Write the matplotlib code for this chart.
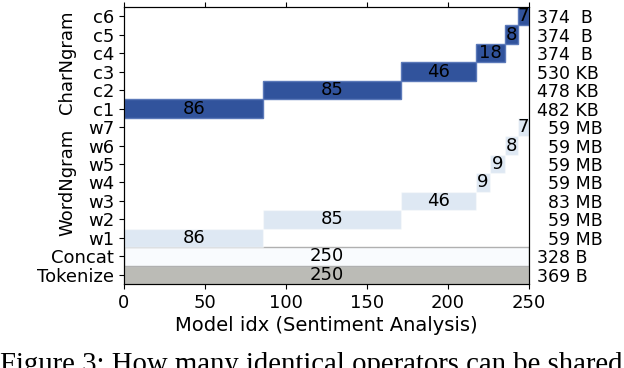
import numpy as np
import matplotlib
matplotlib.use("Agg")
import matplotlib.pyplot as plt

# rows from bottom to top
row_names = ["Tokenize", "Concat",
             "w1", "w2", "w3", "w4", "w5", "w6", "w7",
             "c1", "c2", "c3", "c4", "c5", "c6"]
sizes = ["369 B", "328 B",
         "  59 MB", "  59 MB", "  83 MB", "  59 MB", "  59 MB", "  59 MB", "  59 MB",
         "482 KB", "478 KB", "530 KB", "374  B", "374  B", "374  B"]

# number of models sharing each operator (one segment per row)
tok_count = [250]
concat_count = [250]
word_counts = [86, 85, 46, 9, 9, 8, 7]
char_counts = [86, 85, 46, 18, 8, 7]

dark_blue = "#31539c"
light_blue = "#dee8f3"
fs = 13

fig = plt.figure(figsize=(6.24, 3.68), dpi=100)
ax = fig.add_axes([0.1987, 0.228, 0.6491, 0.753])


def draw_row(y, start, count, color, edge):
    ax.barh(y, count, left=start, height=1.0, color=color,
            edgecolor=edge, linewidth=1)
    ax.text(start + count / 2, y, str(count), ha="center", va="center",
            fontsize=fs, color="black")


draw_row(0, 0, tok_count[0], "#bbbbb6", (1, 1, 1, 0.3))
draw_row(1, 0, concat_count[0], "#f9fbfe", "#b0b0b0")

starts = np.concatenate([[0], np.cumsum(word_counts)[:-1]])
for i, (s, n) in enumerate(zip(starts, word_counts)):
    draw_row(2 + i, s, n, light_blue, (1, 1, 1, 0.4))

starts = np.concatenate([[0], np.cumsum(char_counts)[:-1]])
for i, (s, n) in enumerate(zip(starts, char_counts)):
    draw_row(9 + i, s, n, dark_blue, "#5b79b9")

ax.set_xlim(0, 250)
ax.set_ylim(-0.5, len(row_names) - 0.5)
ax.set_yticks(range(len(row_names)))
ax.set_yticklabels(row_names, fontsize=fs)
ax.set_xticks([0, 50, 100, 150, 200, 250])
ax.tick_params(axis="x", labelsize=fs, top=True, labeltop=False)
ax.set_xlabel("Model idx (Sentiment Analysis)", fontsize=14, labelpad=3)

ax2 = ax.twinx()
ax2.set_ylim(ax.get_ylim())
ax2.set_yticks(range(len(row_names)))
ax2.set_yticklabels(sizes, fontsize=12.5)
ax2.tick_params(axis="y", length=0, pad=6)

ax.text(-0.14, 11.5, "CharNgram", rotation=90, ha="center", va="center",
        fontsize=fs, transform=ax.get_yaxis_transform())
ax.text(-0.14, 5.0, "WordNgram", rotation=90, ha="center", va="center",
        fontsize=fs, transform=ax.get_yaxis_transform())

fig.text(0.0, -0.012, "Figure 3: How many identical operators can be shared",
         family="Liberation Serif", fontsize=20.7, ha="left", va="baseline")

fig.savefig("out.png", dpi=100)
